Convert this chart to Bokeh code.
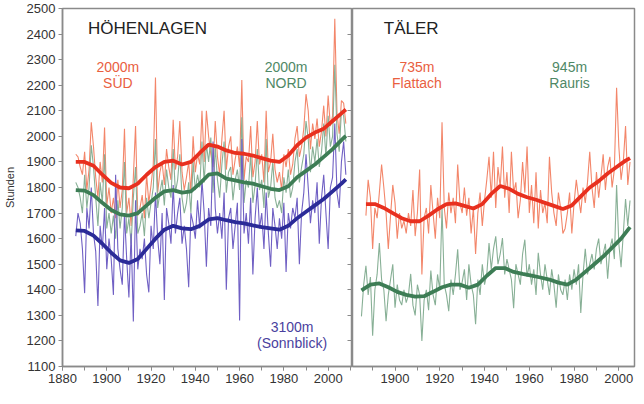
from bokeh.plotting import figure
from bokeh.layouts import row
from bokeh.models import Range1d, LinearAxis, SingleIntervalTicker, Label, CustomJSTickFormatter
from bokeh.embed import file_html
from bokeh.resources import INLINE

# ---------------- data ----------------
years_hoch = list(range(1886, 2009))
sued = [1930, 1920, 1880, 1850, 1940, 1790, 1870, 2055, 1960, 1840,
        1760, 1900, 1820, 2035, 1730, 1800, 1700, 1760, 1680, 1830,
        1720, 1790, 2030, 1700, 1760, 1650, 1840, 2040, 1690, 1720,
        1770, 1680, 1850, 1740, 1810, 1890, 2230, 1780, 1860, 1900,
        1810, 1950, 1880, 1830, 2065, 1870, 1920, 2060, 1860, 1790,
        1840, 1900, 1780, 2000, 1860, 1930, 1890, 2100, 1900, 2100,
        2000, 1930, 1880, 2060, 1920, 1850, 1990, 2100, 1870, 1960,
        2000, 1850, 1910, 1960, 1880, 2220, 1830, 1920, 1900, 2040,
        1840, 1900, 2060, 1890, 1930, 1820, 2100, 1860, 1900, 2010,
        1870, 1820, 1860, 1790, 1930, 1880, 1950, 1850, 1890, 1990,
        2040, 1920, 1960, 2030, 2165, 2100, 1950, 2050, 1990, 2070,
        1960, 2020, 2120, 2000, 2160, 2040, 2080, 2460, 2090, 2010,
        2140, 2130, 2050]
nord = [1820, 1800, 1760, 1700, 1850, 1720, 1800, 1965, 1880, 1760,
        1650, 1820, 1740, 1930, 1640, 1700, 1620, 1690, 1600, 1750,
        1640, 1720, 1900, 1620, 1680, 1580, 1760, 1880, 1620, 1650,
        1700, 1610, 1760, 1680, 1740, 1800, 1990, 1720, 1780, 1830,
        1730, 1870, 1800, 1760, 1950, 1780, 1830, 1930, 1760, 1700,
        1740, 1820, 1700, 1900, 1790, 1850, 1800, 1980, 1820, 1970,
        1900, 1995, 1780, 1960, 1830, 1760, 1890, 1980, 1780, 1860,
        1880, 1750, 1830, 1870, 1790, 2075, 1740, 1830, 1800, 1930,
        1740, 1810, 1950, 1790, 1830, 1720, 1990, 1760, 1800, 1900,
        1760, 1720, 1750, 1700, 1840, 1780, 1870, 1760, 1800, 1900,
        1950, 1820, 1880, 1930, 2060, 1990, 1860, 1960, 1900, 1990,
        1880, 1940, 2050, 1920, 2080, 1960, 2000, 2280, 2010, 1940,
        2100, 2080, 1980]
sonnblick = [1610, 1700, 1660, 1560, 1387, 1720, 1640, 1800, 1620, 1550,
             1337, 1650, 1560, 1720, 1480, 1600, 1520, 1380, 1850, 1560,
             1480, 1420, 1700, 1520, 1370, 1620, 1276, 1750, 1480, 1560,
             1520, 1600, 1460, 1390, 1650, 1560, 1780, 1600, 1500, 1700,
             1360, 1720, 1660, 1580, 1810, 1620, 1700, 1760, 1580, 1650,
             1560, 1410, 1700, 1660, 1600, 1750, 1640, 1830, 1700, 1490,
             1720, 1650, 1980, 1720, 1620, 1700, 1600, 1780, 1400, 1680,
             1720, 1560, 1650, 1740, 1280, 1990, 1620, 1700, 1580, 1760,
             1460, 1680, 1800, 1640, 1700, 1560, 1780, 1620, 1490, 1720,
             1650, 1560, 1680, 1600, 1740, 1470, 1700, 1640, 1720, 1680,
             1760, 1500, 1700, 1780, 1930, 1800, 1660, 1750, 1700, 1820,
             1580, 1760, 1850, 1700, 1560, 1800, 1840, 2050, 1780, 1720,
             1900, 1980, 1850]

smooth_years_hoch = [1886, 1890, 1894, 1898, 1902, 1906, 1910, 1914, 1918, 1922,
                     1926, 1930, 1934, 1938, 1942, 1946, 1950, 1954, 1958, 1962,
                     1966, 1970, 1974, 1978, 1982, 1986, 1990, 1994, 1998, 2002,
                     2006, 2008]
sued_smooth = [1900, 1900, 1885, 1850, 1818, 1800, 1797, 1815, 1850, 1880,
               1900, 1905, 1890, 1900, 1935, 1968, 1960, 1945, 1935, 1932,
               1925, 1915, 1905, 1900, 1925, 1965, 1995, 2015, 2030, 2060,
               2090, 2105]
nord_smooth = [1790, 1788, 1770, 1740, 1712, 1695, 1690, 1700, 1730, 1760,
               1785, 1790, 1780, 1785, 1815, 1850, 1855, 1835, 1828, 1820,
               1815, 1805, 1795, 1790, 1805, 1840, 1865, 1890, 1920, 1950,
               1985, 2002]
sonnblick_smooth = [1632, 1630, 1612, 1580, 1545, 1515, 1505, 1520, 1560, 1600,
                    1635, 1650, 1640, 1637, 1650, 1675, 1680, 1672, 1665, 1660,
                    1652, 1645, 1640, 1635, 1650, 1680, 1705, 1730, 1755, 1785,
                    1815, 1832]

years_flattach = list(range(1887, 2006))
flattach = [1690, 1830, 1760, 1560, 1720, 1680, 1780, 1890, 1800, 1700,
            1560, 1690, 1810, 1740, 1600, 1700, 1640, 1670, 1620, 1700,
            1650, 1790, 1610, 1700, 1870, 1460, 1680, 1720, 1620, 1810,
            1700, 1600, 1760, 1680, 2055, 1720, 1640, 1780, 1700, 1760,
            1660, 1890, 1740, 1700, 1800, 1690, 1760, 1620, 1720, 1540,
            1700, 1780, 1650, 1750, 1830, 1920, 1760, 1940, 1720, 1880,
            1800, 1960, 1760, 1860, 1700, 1940, 1780, 1820, 1680, 1750,
            1900, 1780, 1960, 1700, 1810, 1660, 1860, 1640, 1790, 1700,
            1740, 1660, 1920, 1780, 1700, 1650, 1780, 1720, 1620, 1640,
            1700, 1780, 1620, 1740, 1830, 1760, 1700, 1800, 1740, 1820,
            1940, 1800, 1720, 1860, 1760, 1840, 1930, 1790, 1880, 1920,
            1800, 1870, 2190, 1960, 1830, 1900, 2040, 1810, 1900]
years_rauris = list(range(1885, 2006))
rauris = [1296, 1420, 1494, 1380, 1450, 1220, 1400, 1460, 1583, 1440,
          1400, 1277, 1380, 1440, 1500, 1330, 1420, 1360, 1340, 1400,
          1350, 1380, 1462, 1340, 1300, 1420, 1380, 1200, 1360, 1400,
          1320, 1475, 1380, 1340, 1460, 1400, 1723, 1420, 1380, 1316,
          1440, 1380, 1460, 1558, 1400, 1430, 1480, 1360, 1500, 1420,
          1380, 1265, 1440, 1380, 1500, 1420, 1460, 1583, 1480, 1560,
          1609, 1500, 1540, 1602, 1460, 1520, 1480, 1440, 1328, 1500,
          1460, 1420, 1540, 1596, 1450, 1500, 1420, 1480, 1380, 1545,
          1460, 1400, 1500, 1440, 1380, 1480, 1420, 1330, 1460, 1400,
          1380, 1440, 1360, 1460, 1400, 1480, 1420, 1500, 1309, 1460,
          1560, 1460, 1500, 1540, 1480, 1560, 1600, 1500, 1540, 1580,
          1443, 1560, 1600, 1520, 1810, 1580, 1488, 1620, 1755, 1650,
          1749]

smooth_years_flattach = [1887, 1891, 1895, 1899, 1903, 1907, 1911, 1915, 1919, 1923,
                         1927, 1931, 1935, 1939, 1943, 1947, 1951, 1955, 1959, 1963,
                         1967, 1971, 1975, 1979, 1983, 1987, 1991, 1995, 1999, 2003,
                         2005]
flattach_smooth = [1735, 1735, 1720, 1700, 1680, 1668, 1668, 1690, 1715, 1735,
                   1738, 1728, 1718, 1735, 1775, 1806, 1795, 1775, 1762, 1752,
                   1740, 1728, 1716, 1730, 1765, 1800, 1825, 1855, 1880, 1905,
                   1915]
smooth_years_rauris = [1885, 1889, 1893, 1897, 1901, 1905, 1909, 1913, 1917, 1921,
                       1925, 1929, 1933, 1937, 1941, 1945, 1949, 1953, 1957, 1961,
                       1965, 1969, 1973, 1977, 1981, 1985, 1989, 1993, 1997, 2001,
                       2005]
rauris_smooth = [1398, 1420, 1425, 1410, 1392, 1380, 1373, 1375, 1392, 1410,
                 1420, 1420, 1408, 1420, 1455, 1485, 1485, 1470, 1462, 1455,
                 1448, 1440, 1428, 1420, 1440, 1470, 1500, 1530, 1565, 1600,
                 1645]

y_ticks_interval = 100
x_ticks_interval = 20

# ---------------- styles ----------------
FONT = "Liberation Sans"
ORANGE_THIN = "#f3866a"
RED_THICK = "#e8301f"
GREEN_THIN = "#88b096"
GREEN_THICK = "#3d7d55"
PURPLE_THIN = "#7060c4"
NAVY_THICK = "#2b2b98"
FRAME = "#8a8a8a"
TICKTEXT = "#333333"


def style(p):
    p.grid.visible = False
    p.outline_line_color = FRAME
    p.outline_line_width = 1.5
    p.background_fill_color = "white"
    p.border_fill_color = "white"
    for ax in p.xaxis:
        ax.ticker = SingleIntervalTicker(interval=x_ticks_interval, num_minor_ticks=2)
        ax.axis_line_color = FRAME
        ax.axis_line_width = 1.5
        ax.major_tick_line_color = FRAME
        ax.minor_tick_line_color = FRAME
        ax.major_tick_in = 0
        ax.major_tick_out = 4
        ax.minor_tick_in = 0
        ax.minor_tick_out = 4
        ax.major_label_text_font = FONT
        ax.major_label_text_font_size = "13px"
        ax.major_label_text_color = TICKTEXT
        ax.major_label_standoff = 3


H = 388

p1 = figure(width=352, height=H, x_range=Range1d(1880, 2011), y_range=Range1d(1100, 2500),
            output_backend="svg", toolbar_location=None,
            min_border_left=60, min_border_right=0, min_border_top=8, min_border_bottom=22)
style(p1)
ya = p1.yaxis[0]
ya.ticker = SingleIntervalTicker(interval=y_ticks_interval, num_minor_ticks=0)
ya.axis_line_color = FRAME
ya.axis_line_width = 1.5
ya.major_tick_line_color = FRAME
ya.major_tick_in = 0
ya.major_tick_out = 4
ya.minor_tick_out = 0
ya.major_label_text_font = FONT
ya.major_label_text_font_size = "13px"
ya.major_label_text_color = TICKTEXT
ya.major_label_standoff = 3
ya.axis_label = "Stunden"
ya.axis_label_text_font = FONT
ya.axis_label_text_font_size = "11px"
ya.axis_label_text_font_style = "normal"
ya.axis_label_text_color = TICKTEXT
ya.axis_label_standoff = 8

ra = LinearAxis(ticker=SingleIntervalTicker(interval=y_ticks_interval, num_minor_ticks=0),
                formatter=CustomJSTickFormatter(code="return ''"),
                major_tick_in=5, major_tick_out=0, minor_tick_in=0, minor_tick_out=0,
                major_label_standoff=0, axis_line_color=FRAME, axis_line_width=1.5,
                major_tick_line_color=FRAME)
p1.add_layout(ra, "right")

p1.line(years_hoch, sued, line_color=ORANGE_THIN, line_width=1.1)
p1.line(years_hoch, nord, line_color=GREEN_THIN, line_width=1.1)
p1.line(years_hoch, sonnblick, line_color=PURPLE_THIN, line_width=1.1)
p1.line(smooth_years_hoch, sued_smooth, line_color=RED_THICK, line_width=3.8)
p1.line(smooth_years_hoch, nord_smooth, line_color=GREEN_THICK, line_width=3.8)
p1.line(smooth_years_hoch, sonnblick_smooth, line_color=NAVY_THICK, line_width=3.8)


def lab(p, x, y, text, color, size="14px", align="center"):
    p.add_layout(Label(x=x, y=y, text=text, text_color=color, text_font=FONT,
                       text_font_size=size, text_align=align, text_baseline="middle"))


lab(p1, 1891.5, 2423, "HÖHENLAGEN", "#222222", size="17px", align="left")
lab(p1, 1905, 2270, "2000m", "#e9603f")
lab(p1, 1905, 2209, "SÜD", "#e9603f")
lab(p1, 1981, 2270, "2000m", "#4f8866")
lab(p1, 1981, 2209, "NORD", "#4f8866")
lab(p1, 1983.7, 1253, "3100m", "#4a3f9e")
lab(p1, 1983.7, 1192, "(Sonnblick)", "#4a3f9e")

p2 = figure(width=284, height=H, x_range=Range1d(1881, 2007), y_range=Range1d(1100, 2500),
            output_backend="svg", toolbar_location=None, y_axis_location=None,
            min_border_left=0, min_border_right=2, min_border_top=8, min_border_bottom=22)
style(p2)
p2.line(years_flattach, flattach, line_color=ORANGE_THIN, line_width=1.1)
p2.line(years_rauris, rauris, line_color=GREEN_THIN, line_width=1.1)
p2.line(smooth_years_flattach, flattach_smooth, line_color=RED_THICK, line_width=3.8)
p2.line(smooth_years_rauris, rauris_smooth, line_color=GREEN_THICK, line_width=3.8)

lab(p2, 1895, 2423, "TÄLER", "#222222", size="17px", align="left")
lab(p2, 1909.8, 2270, "735m", "#e9603f")
lab(p2, 1909.8, 2209, "Flattach", "#e9603f")
lab(p2, 1978, 2270, "945m", "#4f8866")
lab(p2, 1978, 2209, "Rauris", "#4f8866")

layout = row(p1, p2)
open("out.html", "w").write(file_html(layout, INLINE))
